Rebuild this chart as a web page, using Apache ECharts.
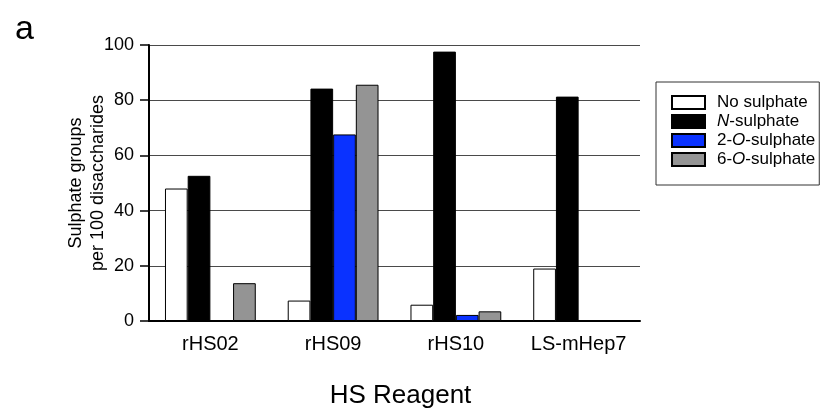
<!DOCTYPE html>
<html>
<head>
<meta charset="utf-8">
<script src="https://cdn.jsdelivr.net/npm/echarts@6/dist/echarts.min.js"></script>
<style>
  html, body { margin: 0; padding: 0; background: #fff; }
  #chart { width: 821px; height: 408px; }
</style>
</head>
<body>
<div id="chart"></div>
<script>
// values (sulphate groups per 100 disaccharides)
const reagents = ['rHS02', 'rHS09', 'rHS10', 'LS-mHep7']
const noSulphate = [48.0, 7.4, 5.9, 19.0]
const nSulphate = [52.6, 84.2, 97.6, 81.3]
const o2Sulphate = [0, 67.6, 2.2, 0]
const o6Sulphate = [13.7, 85.6, 3.5, 0]
const yTicks = [0, 20, 40, 60, 80, 100]

const FONT = '"Liberation Sans", Arial, sans-serif'

function barSeries(name, data, color) {
  return {
    name,
    type: 'bar',
    data,
    barWidth: 22.7,
    barGap: '0%',
    itemStyle: { color, borderColor: '#000', borderWidth: 1 }
  }
}

const chart = echarts.init(document.getElementById('chart'))
chart.setOption({
  animation: false,
  textStyle: { fontFamily: FONT },
  grid: { left: 149, right: 181, top: 45, bottom: 87, outerBoundsMode: 'none', containLabel: false },
  legend: {
    orient: 'vertical',
    left: 656,
    top: 82,
    padding: [12, 4, 17, 15],
    itemWidth: 33,
    itemHeight: 13,
    itemGap: 2,
    icon: 'rect',
    borderColor: '#333',
    borderWidth: 1,
    selectedMode: false,
    formatter: name => ({
      'No sulphate': 'No sulphate',
      'N-sulphate': '{i|N}-sulphate',
      '2-O-sulphate': '2-{i|O}-sulphate',
      '6-O-sulphate': '6-{i|O}-sulphate'
    })[name],
    textStyle: {
      fontFamily: FONT, fontSize: 17, lineHeight: 17, color: '#000',
      padding: [0, 0, 0, 7],
      rich: { i: { fontStyle: 'italic', fontFamily: FONT, fontSize: 17, color: '#000' } }
    }
  },
  xAxis: {
    type: 'category',
    data: reagents,
    name: 'HS Reagent',
    nameLocation: 'middle',
    nameGap: 62,
    nameTextStyle: { fontSize: 26, color: '#000', fontFamily: FONT, padding: [0, 0, 0, 12] },
    axisLine: { lineStyle: { color: '#000', width: 2 } },
    axisTick: { show: false },
    axisLabel: { interval: 0, fontSize: 20, color: '#000', margin: 13, fontFamily: FONT }
  },
  yAxis: {
    type: 'value',
    min: yTicks[0],
    max: yTicks[yTicks.length - 1],
    interval: 20,
    name: 'Sulphate groups\nper 100 disaccharides',
    nameLocation: 'middle',
    nameGap: 40,
    nameMoveOverlap: false,
    nameTextStyle: { fontSize: 18, lineHeight: 22, color: '#000', fontFamily: FONT },
    axisLine: { show: true, lineStyle: { color: '#000', width: 2 } },
    axisTick: { show: true, length: 9, lineStyle: { color: '#000', width: 1.5 } },
    axisLabel: { fontSize: 18, color: '#000', margin: 15, fontFamily: FONT },
    splitLine: { lineStyle: { color: '#4a4a4a', width: 1 } }
  },
  graphic: [{
    type: 'text',
    left: 15,
    top: 13,
    style: { text: 'a', fontSize: 34, fontFamily: FONT, fill: '#000' }
  }],
  series: [
    barSeries('No sulphate', noSulphate, '#ffffff'),
    barSeries('N-sulphate', nSulphate, '#000000'),
    barSeries('2-O-sulphate', o2Sulphate, '#0a32ff'),
    barSeries('6-O-sulphate', o6Sulphate, '#949494')
  ]
})
</script>
</body>
</html>
